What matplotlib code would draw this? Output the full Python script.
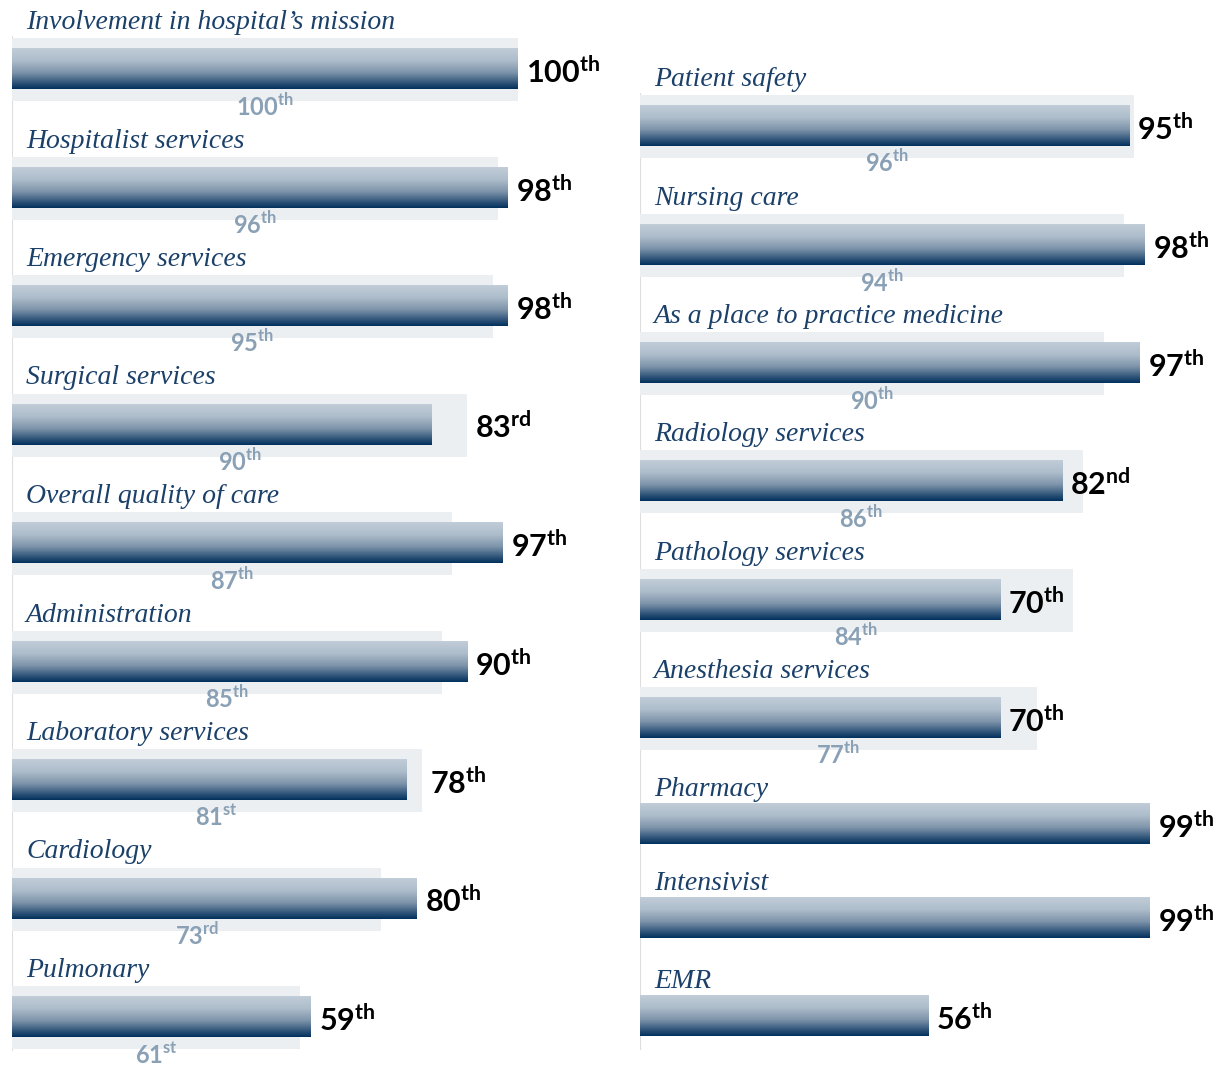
import numpy as np
import matplotlib
matplotlib.use("Agg")
import matplotlib.pyplot as plt
from matplotlib.colors import LinearSegmentedColormap

# Data: current percentile rank and prior-year rank for each service
left_labels = ["Involvement in hospital\u2019s mission", "Hospitalist services",
               "Emergency services", "Surgical services", "Overall quality of care",
               "Administration", "Laboratory services", "Cardiology", "Pulmonary"]
left_current = [100, 98, 98, 83, 97, 90, 78, 80, 59]
left_prior = [100, 96, 95, 90, 87, 85, 81, 73, 61]
# prior bars as drawn (pulmonary's bar is drawn shorter than its label)
left_prior_bar = [100, 96, 95, 90, 87, 85, 81, 73, 57]

right_labels = ["Patient safety", "Nursing care", "As a place to practice medicine",
                "Radiology services", "Pathology services", "Anesthesia services",
                "Pharmacy", "Intensivist", "EMR"]
right_current = [95, 98, 97, 82, 70, 70, 99, 99, 56]
right_prior = [96, 94, 90, 86, 84, 77, None, None, None]
right_prior_bar = right_prior

# Layout (pixels)
W, H = 1228, 1065
left_y = [69 + 118.5 * i for i in range(9)]
right_y = [126, 245, 363, 481, 600, 718, 824, 918, 1016]

plt.rcParams['mathtext.fontset'] = 'custom'
plt.rcParams['mathtext.rm'] = 'Lato:bold'
plt.rcParams['mathtext.bf'] = 'Lato:bold'

grad_cmap = LinearSegmentedColormap.from_list(
    "bar", [(0, "#c1cdd8"), (0.3, "#aebdcb"), (0.6, "#7d94aa"),
            (0.85, "#2f5479"), (1, "#00305c")])
grad = np.linspace(0, 1, 256).reshape(-1, 1)

label_color = "#1b4069"
prior_color = "#8aa0b5"
bg_color = "#eceff2"


def ordinal(n):
    if 10 <= n % 100 <= 20:
        suf = "th"
    else:
        suf = {1: "st", 2: "nd", 3: "rd"}.get(n % 10, "th")
    return f"{n}$^{{\\mathrm{{{suf}}}}}$"


fig = plt.figure(figsize=(W / 100, H / 100), dpi=100)


def draw_column(x0, scale, labels, current, prior, prior_bar, ys, text_after_bg):
    ax = fig.add_axes([x0 / W, 0, 100 * scale / W, 1])
    px = 1 / scale  # data units per pixel
    # thin axis line
    top = ys[0] - 32 if prior[0] is not None else ys[0] - 21
    ax.plot([-0.3 * px, -0.3 * px], [top, ys[-1] + 33], color="#dedede", lw=1.5, zorder=0)
    for lab, cur, pr, prb, y in zip(labels, current, prior, prior_bar, ys):
        end = cur
        if pr is not None:
            ax.add_patch(plt.Rectangle((-2 * px, y - 31), prb + 2 * px, 63,
                                       color=bg_color, lw=0, zorder=1))
            ax.text(prb / 2, y + 46.5, ordinal(pr), color=prior_color, fontsize=17,
                    fontfamily="Lato", fontweight="bold", ha="center", va="baseline")
            label_off = 40
            if text_after_bg:
                end = max(cur, prb)
        else:
            label_off = 28
        ax.imshow(grad, extent=(0, cur, y + 20.5, y - 20.5), cmap=grad_cmap,
                  aspect="auto", interpolation="bilinear", zorder=2, vmin=0, vmax=1)
        ax.text(end + 8 * px, y + 14, ordinal(cur), color="black", fontsize=22,
                fontfamily="Lato", fontweight="bold", ha="left", va="baseline")
        ax.text(14 * px, y - label_off, lab, color=label_color, fontsize=20,
                fontfamily="Liberation Serif", fontstyle="italic",
                ha="left", va="baseline")
    ax.set_xlim(0, 100)
    ax.set_ylim(H, 0)
    ax.axis("off")


draw_column(12, 5.06, left_labels, left_current, left_prior, left_prior_bar, left_y, True)
draw_column(640, 5.15, right_labels, right_current, right_prior, right_prior_bar, right_y, False)

fig.savefig("out.png", dpi=100)
